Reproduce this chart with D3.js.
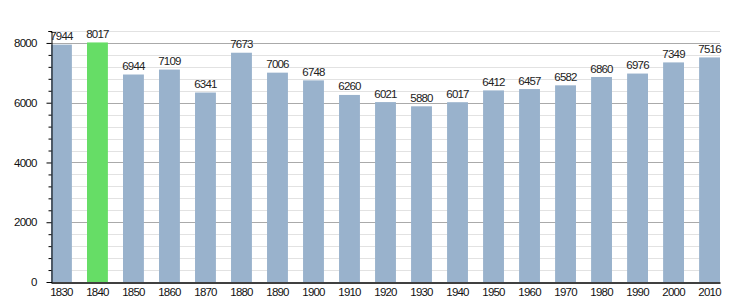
<!DOCTYPE html>
<html>
<head>
<meta charset="utf-8">
<script src="https://cdn.jsdelivr.net/npm/d3@7"></script>
<style>
  body { margin: 0; background: #fff; }
  text { font-family: "Liberation Sans", Arial, sans-serif; }
</style>
</head>
<body>
<div id="chart"></div>
<script>
const years = ["1830", "1840", "1850", "1860", "1870", "1880", "1890", "1900", "1910", "1920",
               "1930", "1940", "1950", "1960", "1970", "1980", "1990", "2000", "2010"];
const population = [7944, 8017, 6944, 7109, 6341, 7673, 7006, 6748, 6260, 6021,
                    5880, 6017, 6412, 6457, 6582, 6860, 6976, 7349, 7516];
const highlightYear = "1840";
const majorTicks = [0, 2000, 4000, 6000, 8000];

const width = 750, height = 300;
const margin = { top: 31, right: 30, bottom: 18, left: 51 };
const fontSize = "11.5px";
const spacing = "-0.8px";

const svg = d3.select("#chart").append("svg")
    .attr("width", width)
    .attr("height", height);

const x = d3.scaleBand()
    .domain(years)
    .range([margin.left, width - margin.right])
    .paddingInner(0.42)
    .paddingOuter(0);

const y = d3.scaleLinear()
    .domain([0, 8400])
    .range([height - margin.bottom, margin.top]);

// gridlines: light every 400, darker every 2000
const minor = d3.range(400, 8401, 400).filter(v => v % 2000 !== 0);
svg.append("g")
    .selectAll("line")
    .data(minor)
    .join("line")
    .attr("x1", margin.left)
    .attr("x2", width - margin.right)
    .attr("y1", d => Math.round(y(d)) + 0.5)
    .attr("y2", d => Math.round(y(d)) + 0.5)
    .attr("stroke", "#e2e2e2");

svg.append("g")
    .selectAll("line")
    .data(majorTicks.filter(v => v > 0))
    .join("line")
    .attr("x1", margin.left)
    .attr("x2", width - margin.right)
    .attr("y1", d => Math.round(y(d)) + 0.5)
    .attr("y2", d => Math.round(y(d)) + 0.5)
    .attr("stroke", "#aaaaaa");

// bars
svg.append("g")
    .selectAll("rect")
    .data(years)
    .join("rect")
    .attr("x", (d) => x(d))
    .attr("y", (d, i) => y(population[i]))
    .attr("width", x.bandwidth())
    .attr("height", (d, i) => y(0) - y(population[i]))
    .attr("fill", d => d === highlightYear ? "#66dd66" : "#99b2cc");

// value labels
svg.append("g")
    .selectAll("text")
    .data(years)
    .join("text")
    .attr("x", d => x(d) + x.bandwidth() / 2)
    .attr("y", (d, i) => y(population[i]) - 4.5)
    .attr("text-anchor", "middle")
    .style("font-size", fontSize)
    .style("letter-spacing", spacing)
    .attr("fill", "#222")
    .text((d, i) => population[i]);

// y axis
const yAxis = svg.append("g")
    .attr("transform", `translate(${margin.left + 0.5},0)`)
    .call(d3.axisLeft(y)
        .tickValues(d3.range(0, 8401, 400))
        .tickSize(3)
        .tickFormat(d => majorTicks.includes(d) ? d : ""));
yAxis.select(".domain").attr("stroke", "#000");
yAxis.selectAll(".tick line")
    .attr("stroke", "#000")
    .attr("x2", d => majorTicks.includes(d) ? -5 : -3);
yAxis.selectAll(".tick text")
    .attr("x", -15)
    .style("font-size", fontSize)
    .style("letter-spacing", spacing)
    .style("font-family", "'Liberation Sans', Arial, sans-serif")
    .attr("fill", "#111");

// x axis
const xAxis = svg.append("g")
    .attr("transform", `translate(0,${y(0) + 0.5})`)
    .call(d3.axisBottom(x).tickSize(0).tickSizeOuter(0));
xAxis.select(".domain").attr("stroke", "#000").attr("stroke-width", 1.5);
xAxis.selectAll(".tick text")
    .attr("dy", "0.75em")
    .attr("y", 5)
    .style("font-size", fontSize)
    .style("letter-spacing", spacing)
    .style("font-family", "'Liberation Sans', Arial, sans-serif")
    .attr("fill", "#111");
</script>
</body>
</html>
